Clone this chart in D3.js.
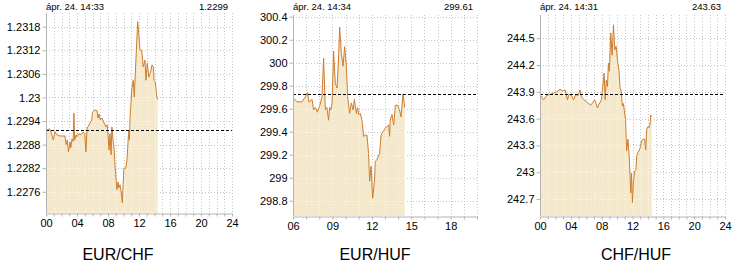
<!DOCTYPE html>
<html>
<head>
<meta charset="utf-8">
<script src="https://cdn.jsdelivr.net/npm/d3@7"></script>
<style>
  body { margin: 0; background: #fff; }
  svg { display: block; font-family: "Liberation Sans", Arial, sans-serif; }
</style>
</head>
<body>
<svg id="chart" width="748" height="271"></svg>
<script>
// EUR/CHF intraday
var eurChfTime = [0.05,0.5,0.95,1.15,1.4,1.8,2.2,2.45,2.6,2.75,2.9,3.1,3.2,3.35,3.5,3.6,3.7,3.9,4.0,4.25,4.5,4.8,5.0,5.15,5.3,5.55,5.9,6.0,6.3,6.6,6.7,6.85,7.0,7.2,7.5,7.75,7.9,8.0,8.13,8.26,8.4,8.5,8.65,8.8,8.9,9.0,9.15,9.3,9.4,9.55,9.7,9.85,9.95,10.05,10.3,10.45,10.6,10.7,10.76,10.84,11.06,11.26,11.39,11.52,11.7,11.83,11.96,12.13,12.35,12.55,12.77,12.9,13.07,13.25,13.5,13.68,13.85,13.94,14.1,14.3,14.4];
var eurChfRate = [1.22917,1.2292,1.22892,1.22913,1.22905,1.22902,1.22902,1.22902,1.2288,1.22892,1.22861,1.22887,1.22872,1.22895,1.22888,1.2296,1.22892,1.22905,1.229,1.22908,1.22905,1.22912,1.22908,1.22861,1.22922,1.2293,1.22943,1.22963,1.22968,1.22966,1.22948,1.22958,1.22943,1.22948,1.22935,1.22925,1.2293,1.22905,1.22866,1.22908,1.22854,1.22925,1.22892,1.22866,1.22828,1.22803,1.22765,1.22785,1.2277,1.22778,1.22759,1.22732,1.22778,1.2282,1.2282,1.22841,1.22892,1.22917,1.22892,1.22943,1.23019,1.23044,1.23001,1.2306,1.23138,1.23193,1.23164,1.2312,1.2312,1.23078,1.23095,1.23044,1.23087,1.23052,1.23065,1.23083,1.23078,1.23044,1.2304,1.23001,1.22995];
var eurChfTicks = [1.2276,1.2282,1.2288,1.2294,1.23,1.2306,1.2312,1.2318];

// EUR/HUF intraday
var eurHufTime = [6.05,6.3,6.68,6.93,7.1,7.2,7.45,7.57,7.7,7.85,8.02,8.2,8.33,8.46,8.58,8.71,8.78,8.89,8.97,9.09,9.22,9.35,9.47,9.55,9.68,9.81,9.93,10.06,10.16,10.31,10.44,10.57,10.67,10.82,10.92,11.0,11.12,11.25,11.37,11.5,11.63,11.75,11.83,11.94,12.06,12.15,12.21,12.26,12.39,12.59,12.7,12.85,13.02,13.28,13.35,13.4,13.53,13.66,13.79,13.96,14.1,14.22,14.37,14.5];
var eurHufRate = [299.69,299.66,299.66,299.70,299.74,299.66,299.68,299.59,299.61,299.57,299.62,299.70,300.04,299.59,299.61,299.50,299.61,299.59,299.65,300.10,299.82,299.78,300.05,300.31,300.08,299.97,300.14,299.97,299.70,299.56,299.65,299.59,299.68,299.56,299.61,299.55,299.56,299.50,299.36,299.37,299.37,299.21,298.97,299.10,298.82,298.92,298.99,299.14,299.16,299.21,299.37,299.40,299.43,299.46,299.36,299.50,299.55,299.46,299.63,299.63,299.59,299.53,299.73,299.61];
var eurHufTicks = [298.8,299,299.2,299.4,299.6,299.8,300,300.2,300.4];

// CHF/HUF intraday
var chfHufTime = [0.0,0.45,0.88,1.3,1.84,2.2,2.6,2.9,3.27,3.56,3.75,4.08,4.35,4.64,4.95,5.2,5.4,5.72,6.15,6.58,7.1,7.45,7.65,7.97,8.14,8.32,8.45,8.6,8.75,8.88,9.0,9.18,9.36,9.53,9.7,9.87,10.05,10.26,10.39,10.52,10.69,10.82,11.03,11.1,11.24,11.42,11.6,11.77,11.88,11.99,12.11,12.28,12.45,12.54,12.7,12.85,13.06,13.15,13.37,13.58,13.71,13.84,14.0,14.15,14.3,14.36,14.5];
var chfHufRate = [243.87,243.81,243.86,243.87,243.89,243.90,243.93,243.91,243.92,243.81,243.87,243.86,243.81,243.87,243.86,243.92,243.84,243.81,243.78,243.75,243.81,243.72,243.76,243.81,243.96,244.11,243.81,244.03,243.96,244.22,244.13,244.56,244.31,244.65,244.37,244.41,244.26,244.13,243.94,243.92,243.74,243.77,243.63,243.59,243.24,243.37,243.14,242.77,242.99,242.66,242.88,243.01,243.03,243.18,243.22,243.24,243.29,243.35,243.37,243.37,243.25,243.48,243.51,243.50,243.55,243.64,243.63];
var chfHufTicks = [242.7,243,243.3,243.6,243.9,244.2,244.5];

var titles = ["EUR/CHF", "EUR/HUF", "CHF/HUF"];
var stamps = ["ápr. 24. 14:33", "ápr. 24. 14:34", "ápr. 24. 14:31"];
var lastQuotes = ["1.2299", "299.61", "243.63"];
var prevClose = [1.22917, 299.73, 243.88];

var svg = d3.select("#chart");

var panels = [
  {time: eurChfTime, rate: eurChfRate, ticks: eurChfTicks, fmt: function(d) { return String(+d.toFixed(4)); },
   xDomain: [0, 24], xLabels: [0,4,8,12,16,20,24], yDomain: [1.22706, 1.23215],
   left: 46, right: 232, top: 13, bottom: 213, titleX: 118},
  {time: eurHufTime, rate: eurHufRate, ticks: eurHufTicks, fmt: function(d) { return String(+d.toFixed(1)); },
   xDomain: [6, 20], xLabels: [6,9,12,15,18], yDomain: [298.667, 300.415],
   left: 293, right: 477, top: 15, bottom: 216, titleX: 375},
  {time: chfHufTime, rate: chfHufRate, ticks: chfHufTicks, fmt: function(d) { return String(+d.toFixed(1)); },
   xDomain: [0, 24], xLabels: [0,4,8,12,16,20,24], yDomain: [242.51, 244.76],
   left: 540, right: 725, top: 15, bottom: 216, titleX: 636}
];

panels.forEach(function(p, i) {
  var x = d3.scaleLinear().domain(p.xDomain).range([p.left, p.right]);
  var y = d3.scaleLinear().domain(p.yDomain).range([p.bottom, p.top]);
  var data = p.time.map(function(t, k) { return [t, p.rate[k]]; });
  var hours = d3.range(p.xDomain[0], p.xDomain[1] + 1);
  var g = svg.append("g");

  function grid(sel, color, op) {
    sel.selectAll("line.vg").data(hours.slice(1)).enter().append("line")
      .attr("class", "vg")
      .attr("x1", function(d) { return Math.round(x(d)) + 0.5; })
      .attr("x2", function(d) { return Math.round(x(d)) + 0.5; })
      .attr("y1", p.top).attr("y2", p.bottom)
      .attr("stroke", color).attr("stroke-opacity", op).attr("stroke-dasharray", "1,2");
    sel.selectAll("line.hg").data(p.ticks).enter().append("line")
      .attr("class", "hg")
      .attr("x1", p.left).attr("x2", p.right)
      .attr("y1", function(d) { return Math.round(y(d)) + 0.5; })
      .attr("y2", function(d) { return Math.round(y(d)) + 0.5; })
      .attr("stroke", color).attr("stroke-opacity", op).attr("stroke-dasharray", "1,2");
  }

  grid(g.append("g"), "#c4c4c4", 1);

  var area = d3.area()
    .x(function(d) { return x(d[0]); })
    .y0(p.bottom)
    .y1(function(d) { return y(d[1]); });
  var line = d3.line()
    .x(function(d) { return x(d[0]); })
    .y(function(d) { return y(d[1]); });

  g.append("path").attr("d", area(data)).attr("fill", "#f4e9cc");

  // faint light dots of the grid over the filled part
  g.append("clipPath").attr("id", "clip" + i)
    .append("path").attr("d", area(data));
  grid(g.append("g").attr("clip-path", "url(#clip" + i + ")"), "#fffaf0", 0.9);

  g.append("path").attr("d", line(data))
    .attr("fill", "none").attr("stroke", "#cf7d2c").attr("stroke-width", 1);

  g.append("line")
    .attr("x1", p.left).attr("x2", p.right)
    .attr("y1", Math.round(y(prevClose[i])) + 0.5)
    .attr("y2", Math.round(y(prevClose[i])) + 0.5)
    .attr("stroke", "#000").attr("stroke-dasharray", "3,2");

  var yAxis = d3.axisLeft(y).tickValues(p.ticks).tickFormat(p.fmt)
    .tickSize(4).tickSizeOuter(0).tickPadding(2);
  var xAxis = d3.axisBottom(x).tickValues(hours)
    .tickFormat(function(d) { return p.xLabels.indexOf(d) >= 0 ? d3.format("02d")(d) : ""; })
    .tickSize(3).tickSizeOuter(0).tickPadding(3);

  var ya = g.append("g").attr("transform", "translate(" + (p.left + 0.5) + ",0)").call(yAxis);
  var xa = g.append("g").attr("transform", "translate(0," + (p.bottom + 0.5) + ")").call(xAxis);
  [ya, xa].forEach(function(a) {
    a.select(".domain").attr("stroke", "#b4b4b4");
    a.selectAll(".tick line").attr("stroke", "#b4b4b4");
    a.selectAll(".tick text").attr("fill", "#000").style("font-size", "11px")
      .style("font-family", "'Liberation Sans', Arial, sans-serif");
  });
  ya.select(".domain").attr("d", "M0," + p.top + "V" + p.bottom);

  g.append("text").attr("x", p.left).attr("y", 10)
    .style("font-size", "9.5px").text(stamps[i]);
  g.append("text").attr("x", p.right - 4).attr("y", 10).attr("text-anchor", "end")
    .style("font-size", "9.5px").text(lastQuotes[i]);

  g.append("text").attr("x", p.titleX).attr("y", 260).attr("text-anchor", "middle")
    .style("font-size", "16px").text(titles[i]);
});
</script>
</body>
</html>
